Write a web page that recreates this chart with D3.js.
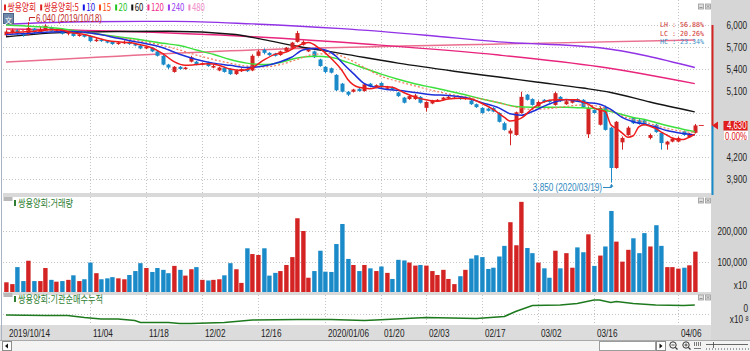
<!DOCTYPE html>
<html>
<head>
<meta charset="utf-8">
<script src="https://cdn.jsdelivr.net/npm/d3@7/dist/d3.min.js"></script>
<style>
body { margin: 0; background: #fff; }
svg { display: block; }
</style>
</head>
<body>
<svg id="chart" width="750" height="351"></svg>
<script>
// ---- data ----
var tickIdx = [0, 15, 25, 35, 45, 57, 67, 75, 85, 95, 105, 120];
var tickLabels = ['2019/10/14', '11/04', '11/18', '12/02', '12/16', '2020/01/06', '01/20', '02/03', '02/17', '03/02', '03/16', '04/06'];
var priceTicks = [3900, 4200, 4500, 4800, 5100, 5400, 5700, 6000];
var volTicks = [100000, 200000];

var openPx = [5860,5900,5930,5890,5870,5950,5900,5930,5970,5910,
	5930,5880,5900,5850,5870,5850,5780,5800,5780,5770,
	5740,5750,5770,5740,5720,5680,5690,5640,5580,5460,
	5360,5430,5400,5500,5500,5460,5490,5420,5380,5420,
	5400,5330,5370,5400,5380,5580,5660,5620,5610,5590,
	5640,5690,5770,5730,5640,5640,5530,5430,5410,5320,
	5200,5090,5090,5130,5100,5200,5150,5210,5130,5150,
	5080,5010,4990,4990,5020,4870,4930,4960,4980,5000,
	5000,5010,4990,4970,4920,4870,4860,4870,4800,4660,
	4520,4500,4800,5050,4990,4890,4980,4970,4910,5020,
	4920,4940,4990,4980,4510,4840,4640,4880,4600,4050,
	4400,4500,4730,4700,4700,4460,4640,4530,4370,4410,
	4410,4550,4470,4530];
var highPx = [5930,5950,5940,5900,6040,5960,5980,6010,5980,5950,
	5940,5910,5910,5880,5880,5860,5820,5810,5790,5780,
	5770,5790,5780,5750,5730,5710,5700,5650,5590,5470,
	5440,5440,5430,5580,5510,5490,5500,5460,5430,5430,
	5410,5390,5410,5420,5600,5660,5680,5630,5620,5650,
	5700,5770,5920,5790,5690,5650,5540,5440,5420,5330,
	5210,5100,5130,5140,5200,5210,5190,5220,5170,5160,
	5090,5020,5040,5060,5030,4960,4980,4990,5020,5040,
	5020,5020,5020,4980,4930,4880,4870,4880,4810,4680,
	4590,4820,5090,5060,5000,4970,4990,4980,5090,5030,
	4980,4990,5000,4990,4890,4850,4890,4900,4610,4690,
	4480,4620,4740,4720,4720,4520,4650,4540,4420,4460,
	4480,4560,4530,4650];
var lowPx = [5850,5880,5870,5840,5860,5880,5890,5920,5910,5900,
	5870,5860,5840,5840,5830,5770,5770,5770,5750,5730,
	5730,5740,5730,5710,5670,5670,5630,5570,5450,5400,
	5350,5390,5390,5490,5450,5450,5430,5410,5370,5350,
	5320,5320,5360,5360,5370,5570,5600,5580,5570,5580,
	5630,5680,5760,5720,5630,5550,5430,5340,5340,5100,
	5080,5030,5080,5090,5090,5150,5140,5140,5120,5110,
	5020,4930,4980,4980,4930,4820,4920,4950,4970,4990,
	4990,4980,4980,4910,4870,4790,4820,4810,4670,4560,
	4360,4490,4790,4970,4900,4880,4940,4940,4900,4950,
	4910,4930,4960,4870,4460,4790,4630,4560,3850,4040,
	4300,4490,4650,4640,4630,4440,4530,4300,4300,4400,
	4400,4490,4460,4520];
var closePx = [5910,5930,5880,5860,5960,5900,5940,5990,5920,5930,
	5880,5900,5850,5870,5840,5780,5800,5780,5760,5740,
	5760,5770,5740,5720,5680,5700,5640,5580,5460,5420,
	5430,5400,5420,5560,5460,5480,5440,5440,5420,5360,
	5330,5380,5400,5370,5580,5640,5620,5590,5580,5640,
	5690,5760,5890,5770,5670,5560,5440,5360,5350,5110,
	5090,5050,5120,5100,5190,5160,5180,5150,5150,5120,
	5030,4940,5030,5040,4940,4950,4970,4980,5010,5020,
	5010,4990,5010,4920,4880,4800,4830,4820,4680,4570,
	4560,4810,5020,4980,4910,4950,4950,4950,5070,4960,
	4960,4970,4970,4880,4870,4800,4870,4570,4050,4680,
	4460,4600,4660,4650,4640,4500,4540,4390,4410,4450,
	4460,4500,4520,4630];
// volume as shown on the axis (x10 shares)
var volume = [32000,26000,82000,36000,103000,36000,36000,79000,40000,34000,
	36000,40000,55000,36000,42000,97000,62000,42000,45000,49000,
	45000,42000,56000,69000,95000,79000,66000,79000,73000,62000,
	86000,73000,54000,75000,82000,40000,38000,40000,42000,55000,
	95000,75000,30000,144000,125000,122000,144000,54000,63000,69000,
	89000,115000,243000,201000,47000,69000,136000,67000,66000,158000,
	224000,109000,89000,69000,89000,78000,69000,84000,63000,43000,
	106000,104000,97000,87000,89000,87000,69000,56000,73000,43000,
	26000,52000,73000,110000,121000,115000,76000,80000,117000,152000,
	230000,154000,297000,145000,128000,97000,78000,47000,136000,78000,
	128000,80000,147000,131000,190000,86000,120000,150000,267000,166000,
	100000,139000,177000,128000,194000,150000,220000,152000,82000,82000,
	77000,80000,88000,133000];

// moving averages: [day index, price]
var ma5 = [[0,5890],[2,5900],[4,5910],[6,5920],[8,5940],[10,5930],[12,5890],[14,5870],[16,5830],[18,5790],
	[20,5770],[22,5760],[24,5730],[26,5690],[28,5610],[30,5500],[32,5450],[34,5460],[36,5470],[38,5450],
	[40,5400],[42,5380],[44,5420],[46,5520],[48,5600],[50,5630],[52,5710],[54,5760],[56,5680],[58,5550],
	[60,5380],[61,5260],[63,5150],[65,5130],[67,5160],[69,5150],[71,5080],[73,5020],[75,4980],[77,4960],
	[79,4990],[81,5000],[83,4990],[85,4930],[87,4850],[89,4740],[90,4690],[91,4700],[92,4730],[94,4860],
	[96,4950],[98,4980],[100,4980],[102,4980],[103,4950],[104,4920],[105,4870],[106,4840],[107,4820],[108,4640],
	[109,4590],[110,4530],[111,4470],[112,4490],[113,4610],[114,4640],[115,4620],[116,4590],[117,4540],[118,4500],
	[119,4460],[120,4440],[121,4440],[122,4470],[123,4510]];
var ma10 = [[0,5870],[4,5885],[8,5905],[12,5910],[16,5880],[20,5820],[24,5760],[28,5690],[31,5600],[34,5530],
	[37,5480],[40,5450],[43,5420],[46,5440],[49,5500],[51,5560],[53,5660],[55,5680],[57,5660],[59,5570],
	[60,5490],[62,5340],[64,5200],[66,5150],[68,5120],[70,5110],[73,5080],[76,5050],[79,5040],[82,5010],
	[85,4940],[88,4870],[90,4790],[92,4770],[94,4820],[96,4890],[98,4950],[100,4985],[102,4960],[104,4940],
	[106,4920],[108,4850],[110,4740],[112,4680],[114,4650],[116,4610],[118,4560],[120,4530],[122,4510],[123,4500]];
var ma15 = [[0,5940],[5,5920],[10,5920],[15,5890],[20,5830],[24,5780],[28,5720],[31,5660],[34,5590],[37,5530],
	[40,5480],[43,5440],[46,5430],[49,5460],[52,5530],[55,5600],[58,5610],[61,5540],[64,5420],[67,5300],
	[70,5230],[73,5170],[76,5110],[79,5060],[82,5020],[85,4990],[88,4940],[91,4880],[94,4850],[97,4860],
	[100,4890],[103,4910],[106,4890],[108,4830],[110,4760],[112,4710],[114,4680],[116,4630],[118,4590],[120,4560],
	[122,4540],[123,4540]];
var ma20 = [[0,6000],[5,5980],[10,5950],[15,5890],[20,5840],[24,5800],[28,5750],[31,5720],[34,5660],[37,5600],
	[40,5530],[43,5480],[46,5460],[49,5490],[52,5550],[55,5575],[58,5560],[61,5490],[64,5410],[67,5330],
	[70,5260],[73,5200],[76,5150],[79,5100],[82,5050],[85,4990],[88,4940],[91,4890],[94,4880],[97,4880],
	[100,4880],[103,4870],[106,4850],[108,4820],[110,4780],[112,4740],[114,4710],[116,4670],[118,4630],[120,4595],
	[122,4560],[123,4545]];
var ma60 = [[0,5840],[11,5900],[29,5915],[41,5870],[46,5800],[52,5710],[60,5610],[70,5480],[80,5370],[88,5290],
	[95,5220],[103,5140],[108,5080],[115,4950],[123,4815]];
var ma120 = [[0,5945],[20,5915],[44,5840],[66,5730],[88,5590],[106,5430],[123,5200]];
var ma240 = [[0,6010],[14,6045],[30,6050],[44,6015],[60,5950],[75,5860],[88,5770],[106,5690],[123,5420]];
var ma480 = [[0,5495],[44,5660],[88,5740],[123,5795]];

// 기관순매수누적 (x10^8), [day index, value]
var instCum = [[0,-2],[7,-3],[11,-3],[14,-7],[17,-10],[20,-10],[23,-13],[24,-17],[29,-17],[31,-19],
	[33,-19],[39,-17],[43,-13],[44,-12],[52,-11],[58,-11],[64,-13],[66,-12],[75,-7],[84,-9],
	[89,-5],[91,5],[94,17],[99,18],[102,21],[105,28],[106,28],[108,23],[109,25],[112,21],
	[116,18],[121,17],[123,18]];

var legendNames = ['쌍용양회', '쌍용양회:5', '10', '15', '20', '60', '120', '240', '480'];
var legendColors = ['#e02020', '#e02020', '#1414e6', '#ff4a1a', '#1fc61f', '#111111', '#f0308a', '#9a40f0', '#f08cc8'];

var lastPrice = 4630;
var highMark = 6040, highIdx = 4, highDate = '2019/10/18';
var lowMark = 3850, lowIdx = 108, lowDate = '2020/03/19';

// ---- layout ----
var squeeze = 0.78; // the screenshot is horizontally compressed
var plotL = 3, plotR = 711;
var mainTop = 0, mainBot = 193;
var volTop = 197, volBot = 292;
var instTop = 295, instBot = 325;
var upColor = '#d42323', downColor = '#1a8ac8';
var gridColor = '#c4c4c4';
var numFont = 'Liberation Sans, Arial, sans-serif';
var krFont = 'Noto Sans CJK KR, sans-serif';

var svg = d3.select('#chart');
var fmt = d3.format(',');

var x = d3.scaleLinear().domain([0, closePx.length - 1]).range([6, 6 + 5.6 * (closePx.length - 1)]);
var yPrice = d3.scaleLinear().domain([3900, 6000]).range([179, 25]);
var yVol = d3.scaleLinear().domain([0, 200000]).range([volBot, 231.3]);
var yInst = d3.scaleLinear().domain([0, 28]).range([314, 300]);

// narrow text: squeeze horizontally around the anchor point
var label = function(g, px, py, str, color, size, anchor, family, sq) {
	var k = sq || squeeze;
	var t = g.append('text')
		.attr('transform', 'translate(' + px + ',' + py + ') scale(' + k + ',1)')
		.attr('text-anchor', anchor || 'start')
		.attr('font-size', size)
		.attr('font-family', family || numFont)
		.attr('fill', color)
		.text(str);
	t.property('narrowWidth', t.node().getComputedTextLength() * k);
	return t;
};

// backgrounds
svg.append('rect').attr('width', 750).attr('height', 351).attr('fill', '#ffffff');
svg.append('rect').attr('x', plotR).attr('y', 0).attr('width', 750 - plotR).attr('height', 340).attr('fill', '#d6d6d6');
svg.append('rect').attr('x', plotL).attr('y', mainBot).attr('width', plotR - plotL).attr('height', volTop - mainBot).attr('fill', '#d9d9d9');
svg.append('rect').attr('x', plotL).attr('y', volBot).attr('width', plotR - plotL).attr('height', instTop - volBot).attr('fill', '#d9d9d9');
svg.append('rect').attr('x', 0).attr('y', instBot).attr('width', plotR).attr('height', 340 - instBot).attr('fill', '#dcdcdc');
svg.append('line').attr('x1', 1.5).attr('x2', 1.5).attr('y1', 0).attr('y2', 340).attr('stroke', '#a8b4c4');

// ---- grid ----
var grid = svg.append('g');
grid.selectAll('line.hp').data(priceTicks).enter().append('line')
	.attr('x1', plotL).attr('x2', plotR)
	.attr('y1', d => Math.round(yPrice(d)) + 0.5).attr('y2', d => Math.round(yPrice(d)) + 0.5)
	.attr('stroke', gridColor).attr('stroke-dasharray', '1,2');
grid.selectAll('line.hv').data(volTicks).enter().append('line')
	.attr('x1', plotL).attr('x2', plotR)
	.attr('y1', d => Math.round(yVol(d)) + 0.5).attr('y2', d => Math.round(yVol(d)) + 0.5)
	.attr('stroke', gridColor).attr('stroke-dasharray', '1,2');
grid.append('line')
	.attr('x1', plotL).attr('x2', plotR)
	.attr('y1', Math.round(yInst(0)) + 0.5).attr('y2', Math.round(yInst(0)) + 0.5)
	.attr('stroke', gridColor).attr('stroke-dasharray', '1,2');
[[mainTop, mainBot], [volTop, volBot], [instTop, instBot]].forEach(function(p) {
	grid.selectAll(null).data(tickIdx.slice(1)).enter().append('line')
		.attr('x1', d => Math.round(x(d)) + 0.5).attr('x2', d => Math.round(x(d)) + 0.5)
		.attr('y1', p[0]).attr('y2', p[1])
		.attr('stroke', gridColor).attr('stroke-dasharray', '1,2');
});

// ---- moving averages (long ones under the candles) ----
var maLine = d3.line().x(d => x(d[0])).y(d => yPrice(d[1])).curve(d3.curveMonotoneX);
var drawMa = function(data, color, width, dash) {
	svg.append('path').datum(data)
		.attr('d', maLine)
		.attr('fill', 'none')
		.attr('stroke', color)
		.attr('stroke-width', width)
		.attr('stroke-dasharray', dash || null);
};
drawMa(ma480, '#ea6e8e', 1.4);
drawMa(ma240, '#9232e6', 1.4);
drawMa(ma120, '#e8247c', 1.4);
drawMa(ma60, '#141414', 1.4);

// ---- candles ----
var candles = closePx.map((c, i) => ({i: i, o: openPx[i], h: highPx[i], l: lowPx[i], c: c, v: volume[i]}));
var cg = svg.append('g');
cg.selectAll('line.wick').data(candles).enter().append('line')
	.attr('x1', d => Math.round(x(d.i)) + 0.5).attr('x2', d => Math.round(x(d.i)) + 0.5)
	.attr('y1', d => yPrice(d.h)).attr('y2', d => yPrice(d.l))
	.attr('stroke', d => d.c >= d.o ? upColor : downColor);
cg.selectAll('rect.body').data(candles).enter().append('rect')
	.attr('x', d => Math.round(x(d.i)) - 1.5)
	.attr('width', 4)
	.attr('y', d => yPrice(Math.max(d.o, d.c)))
	.attr('height', d => Math.max(1, Math.abs(yPrice(d.o) - yPrice(d.c))))
	.attr('fill', d => d.c >= d.o ? upColor : downColor);

drawMa(ma20, '#3ce03c', 1.5);
drawMa(ma15, '#f47a5a', 1.2, '2,2');
drawMa(ma10, '#1c2fd8', 1.5);
drawMa(ma5, '#ee1c1c', 1.5);

// last price tick on the plot
svg.append('line').attr('x1', x(closePx.length - 1) + 4).attr('x2', x(closePx.length - 1) + 9)
	.attr('y1', yPrice(lastPrice)).attr('y2', yPrice(lastPrice)).attr('stroke', '#e03030');

// high / low marks
var ann = svg.append('g');
ann.append('path')
	.attr('d', 'M' + (x(highIdx) + 1) + ',' + (yPrice(highMark) - 1) + 'V17.5H35')
	.attr('fill', 'none').attr('stroke', '#c02828');
label(ann, 36, 21.5, fmt(highMark) + ' (' + highDate + ')', '#c02828', 10);
var lx = Math.round(x(lowIdx)) + 0.5;
ann.append('path')
	.attr('d', 'M603,187.5H' + lx + 'V' + (yPrice(lowMark) + 2))
	.attr('fill', 'none').attr('stroke', '#2b87c0');
ann.append('path')
	.attr('d', 'M' + (lx - 2) + ',' + (yPrice(lowMark) + 4) + 'L' + lx + ',' + (yPrice(lowMark) + 1) + 'L' + (lx + 2) + ',' + (yPrice(lowMark) + 4) + 'Z')
	.attr('fill', '#2b87c0');
label(ann, 602, 191, fmt(lowMark) + ' (' + lowDate + ')', '#2b87c0', 10.5, 'end');

// LH / LC / HC
var lh = (highMark / lowMark - 1) * 100;
var lc = (lastPrice / lowMark - 1) * 100;
var hc = (1 - lastPrice / highMark) * 100;
var mono = 'DejaVu Sans Mono, monospace';
label(svg, 704, 27.2, 'LH :  ' + lh.toFixed(2) + '%', '#d03030', 7, 'end', mono, 0.95);
label(svg, 704, 35.5, 'LC :  ' + lc.toFixed(2) + '%', '#d03030', 7, 'end', mono, 0.95);
label(svg, 704, 43.8, 'HC :  ' + hc.toFixed(2) + '%', '#3a90c8', 7, 'end', mono, 0.95);

// ---- volume ----
var vg = svg.append('g');
vg.selectAll('rect').data(candles).enter().append('rect')
	.attr('x', d => Math.round(x(d.i)) - 1.8)
	.attr('width', 4.4)
	.attr('y', d => yVol(d.v))
	.attr('height', d => volBot - yVol(d.v))
	.attr('fill', d => d.c >= d.o ? upColor : downColor);

// ---- institutional cumulative ----
svg.append('path').datum(instCum)
	.attr('d', d3.line().x(d => x(d[0])).y(d => yInst(d[1])))
	.attr('fill', 'none').attr('stroke', '#1e7a1e').attr('stroke-width', 1.6);

// ---- legends ----
var lg = svg.append('g');
var lx0 = 4;
legendNames.forEach(function(name, k) {
	lg.append('rect').attr('x', lx0).attr('y', 4.5).attr('width', 2).attr('height', 6).attr('fill', legendColors[k]);
	var t = label(lg, lx0 + 3.5, 10.5, name, legendColors[k], 10, 'start', krFont);
	lx0 += 3.5 + t.property('narrowWidth') + 4;
});
// 文 icon
svg.append('rect').attr('x', 3.5).attr('y', 13.5).attr('width', 10).attr('height', 10)
	.attr('fill', '#6f89aa').attr('stroke', '#4c6584');
svg.append('text').attr('x', 8.5).attr('y', 22.5).attr('text-anchor', 'middle')
	.attr('font-size', 7).attr('font-family', krFont).attr('fill', '#ffffff').text('文');

var panelTitle = function(py, title) {
	svg.append('rect').attr('x', 3.5).attr('y', py - 6).attr('width', 9).attr('height', 4).attr('fill', '#b8b8b8');
	svg.append('rect').attr('x', 14).attr('y', py - 3).attr('width', 2).attr('height', 6).attr('fill', '#2e7d32');
	label(svg, 18, py + 4, title, '#2e7d32', 10.5, 'start', krFont);
};
panelTitle(203, '쌍용양회:거래량');
panelTitle(299, '쌍용양회:기관순매수누적');

// panel buttons
[4, 198, 295].forEach(function(py) {
	[698.5, 705.5].forEach(function(px, k) {
		svg.append('rect').attr('x', px).attr('y', py).attr('width', 5).attr('height', 5)
			.attr('fill', '#dedede').attr('stroke', '#9a9a9a').attr('stroke-width', 0.8);
		svg.append('path').attr('d', k ? 'M' + (px + 1.2) + ',' + (py + 1.2) + 'l2.6,2.6m0,-2.6l-2.6,2.6' : 'M' + (px + 1) + ',' + (py + 3.5) + 'h3')
			.attr('stroke', '#777').attr('stroke-width', 0.7);
	});
});

// ---- right axis ----
var ax = svg.append('g');
var yl = yPrice(lastPrice);
ax.append('rect').attr('x', plotR + 0.5).attr('y', yPrice(6000)).attr('width', 2)
	.attr('height', yl - yPrice(6000)).attr('fill', '#d42323');
ax.append('rect').attr('x', plotR + 0.5).attr('y', yl).attr('width', 2)
	.attr('height', mainBot + 2 - yl).attr('fill', '#1a8ac8');
// labels under the current-price box are covered, as in the terminal
priceTicks.filter(v => Math.abs(yPrice(v) - yl) > 14).forEach(function(v) {
	label(ax, 747, yPrice(v) + 4, fmt(v), '#222222', 10.5, 'end');
});
volTicks.forEach(function(v) {
	label(ax, 747, yVol(v) + 4, fmt(v), '#222222', 10.5, 'end');
});
label(ax, 747, 289, 'x10', '#222222', 10.5, 'end');
label(ax, 748, 311.5, '0', '#222222', 10.5, 'end');
label(ax, 743, 323, 'x10', '#222222', 10.5, 'end');
label(ax, 748.5, 320.5, '8', '#222222', 7, 'end');

// current price box
ax.append('path').attr('d', 'M712,' + yl + 'l6,-4v8z').attr('fill', '#e02020');
ax.append('rect').attr('x', 723.5).attr('y', yl - 4.5).attr('width', 24).attr('height', 9.5).attr('fill', '#e01c1c');
label(ax, 746.5, yl + 3.5, fmt(lastPrice), '#ffffff', 10, 'end');
ax.append('rect').attr('x', 724).attr('y', yl + 5.5).attr('width', 24).attr('height', 9).attr('fill', '#ffffff');
label(ax, 747, yl + 14.5, '0.00%', '#e02020', 10, 'end');

// ---- x axis labels ----
var xg = svg.append('g');
tickIdx.forEach(function(idx, k) {
	label(xg, Math.round(x(idx)) + 3, 337, tickLabels[k], '#222222', 10.5);
});

// ---- scroll bar row ----
var sb = svg.append('g');
sb.append('rect').attr('x', 0).attr('y', 340).attr('width', 750).attr('height', 11).attr('fill', '#f3f3f3');
sb.append('line').attr('x1', 0).attr('x2', 750).attr('y1', 340.5).attr('y2', 340.5).attr('stroke', '#a9a9a9');
sb.append('rect').attr('x', 2.5).attr('y', 341.5).attr('width', 9).attr('height', 9).attr('fill', '#fff').attr('stroke', '#8c8c8c');
sb.append('path').attr('d', 'M5,346l3,-2.5v5z').attr('fill', '#111');
sb.append('rect').attr('x', 599.5).attr('y', 341.5).attr('width', 56).attr('height', 9).attr('fill', '#fff').attr('stroke', '#9c9c9c');
sb.append('rect').attr('x', 656.5).attr('y', 341.5).attr('width', 9).attr('height', 9).attr('fill', '#fff').attr('stroke', '#8c8c8c');
sb.append('path').attr('d', 'M662.5,346l-3,-2.5v5z').attr('fill', '#111');
[673, 686].forEach(function(cx, k) {
	sb.append('circle').attr('cx', cx).attr('cy', 345).attr('r', 3.2).attr('fill', 'none').attr('stroke', '#333');
	sb.append('line').attr('x1', cx + 2.3).attr('y1', 347.3).attr('x2', cx + 4.5).attr('y2', 349.5).attr('stroke', '#333').attr('stroke-width', 1.2);
	sb.append('path').attr('d', 'M' + (cx - 1.6) + ',345h3.2' + (k ? 'M' + cx + ',343.4v3.2' : ''))
		.attr('stroke', '#333').attr('stroke-width', 0.8);
});
sb.append('path').attr('d', 'M694.5,342v4M696.5,342v4M698.5,342v4M700.5,342v4M694,348.5h7')
	.attr('stroke', '#444').attr('stroke-width', 0.7);
sb.append('path').attr('d', 'M706,344.5h42M713.5,342v6').attr('stroke', '#444').attr('stroke-width', 0.8);
sb.append('path').attr('d', d3.range(706, 749, 3).map(v => 'M' + v + '.5,348v2').join(''))
	.attr('stroke', '#666').attr('stroke-width', 0.6);
</script>
</body>
</html>
